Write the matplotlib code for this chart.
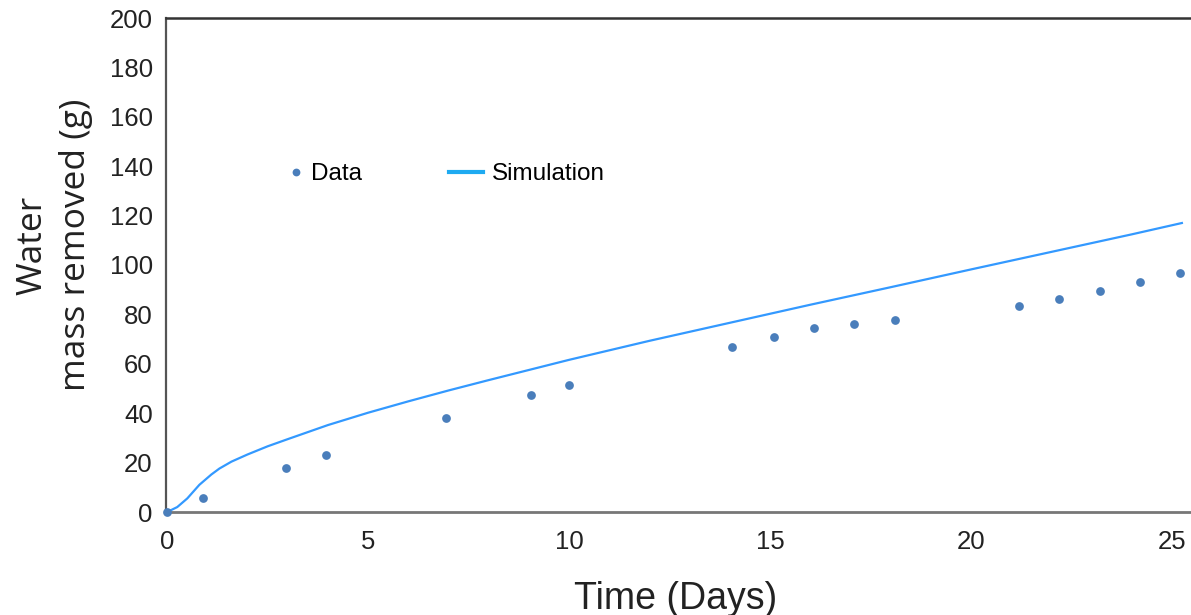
import matplotlib
matplotlib.use("Agg")
import matplotlib.pyplot as plt
from matplotlib.lines import Line2D

# measured water removal (days, grams)
data_days = [0, 0.9, 2.95, 3.95, 6.95, 9.05, 10.0, 14.05, 15.1, 16.1, 17.1,
             18.1, 21.2, 22.2, 23.2, 24.2, 25.2]
data_mass = [0, 5.8, 17.8, 23.0, 38.0, 47.5, 51.5, 67.0, 70.7, 74.3, 76.0,
             77.6, 83.3, 86.2, 89.4, 93.0, 96.7]

# simulated curve
sim_days = [0, 0.25, 0.5, 0.8, 1.1, 1.3, 1.6, 2, 2.5, 3, 4, 5, 6, 7, 8, 9,
            10, 12, 14, 16, 18, 20, 22, 24, 25.25]
sim_mass = [0, 2.0, 5.5, 11.0, 15.2, 17.6, 20.4, 23.3, 26.6, 29.5, 35.2,
            40.2, 44.8, 49.2, 53.4, 57.5, 61.6, 69.3, 76.6, 83.9, 91.0, 98.2,
            105.3, 112.4, 117.0]

x_ticks = [0, 5, 10, 15, 20, 25]
y_ticks = list(range(0, 201, 20))

DOT = "#4a7ebb"
LINE = "#3399ff"
LEG_LINE = "#1eaaf1"

plt.rcParams["font.family"] = ["Liberation Sans", "DejaVu Sans"]

fig = plt.figure(figsize=(11.91, 6.15), dpi=100)
ax = fig.add_axes([166 / 1191, 103 / 615, 1040 / 1191, 494 / 615])

ax.plot(sim_days, sim_mass, color=LINE, lw=1.6, zorder=2)
ax.plot(data_days, data_mass, "o", color=DOT, ms=6.3, mec="none", zorder=3,
        clip_on=False)

ax.set_xlim(-0.03, 25.85)
ax.set_ylim(0, 200)
ax.set_xticks(x_ticks)
ax.set_yticks(y_ticks)
ax.tick_params(length=0, labelsize=18.5, colors="#222222")
ax.tick_params(axis="x", pad=13)
ax.tick_params(axis="y", pad=9.5)

ax.spines["right"].set_visible(False)
ax.spines["top"].set_color("#333333")
ax.spines["top"].set_linewidth(1.8)
ax.spines["left"].set_color("#555555")
ax.spines["left"].set_linewidth(1.6)
ax.spines["bottom"].set_color("#777777")
ax.spines["bottom"].set_linewidth(2)

# legend: two separate entries to match the spacing
h1 = Line2D([], [], ls="none", marker="o", ms=5.6, color=DOT, mec="none")
leg1 = ax.legend([h1], ["Data"], loc="center left",
                 bbox_to_anchor=(0.118, 0.684), frameon=False, fontsize=17.5,
                 handlelength=0.6, handletextpad=0.3, borderpad=0,
                 borderaxespad=0)
ax.add_artist(leg1)
h2 = Line2D([], [], color=LEG_LINE, lw=3)
ax.legend([h2], ["Simulation"], loc="center left",
          bbox_to_anchor=(0.272, 0.684), frameon=False, fontsize=17.5,
          handlelength=1.4, handletextpad=0.35, borderpad=0, borderaxespad=0)

fig.text(54 / 1191, 1 - 245 / 615, "Water\nmass removed (g)", rotation=90,
         ha="center", va="center", multialignment="center", fontsize=25.5,
         family=["Open Sans", "DejaVu Sans"], color="#222222",
         linespacing=1.35)
fig.text(676 / 1191, 1 - 599 / 615, "Time (Days)", ha="center", va="center",
         fontsize=27, color="#222222")

fig.savefig("out.png", dpi=100, facecolor="white")
